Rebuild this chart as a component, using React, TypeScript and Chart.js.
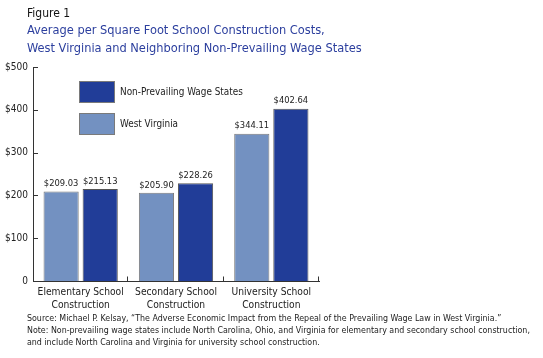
import React, { useEffect, useRef } from "react";
import { Chart, registerables } from "chart.js";

Chart.register(...registerables);

const categories: string[][] = [
  ["Elementary School", "Construction"],
  ["Secondary School", "Construction"],
  ["University School", "Construction"],
];
const westVirginia = [209.03, 205.9, 344.11];
const nonPrevailing = [215.13, 228.26, 402.64];
const seriesNames = ["West Virginia", "Non-Prevailing Wage States"];
const yTicks = [0, 100, 200, 300, 400, 500];

const FONT = "'DejaVu Sans Condensed', 'Liberation Sans', sans-serif";
const AXIS = "#333333";

const overlayPlugin = {
  id: "overlay",
  afterDraw(chart: any) {
    const ctx = chart.ctx as CanvasRenderingContext2D;
    const x = chart.scales.x;
    const y = chart.scales.y;
    const area = chart.chartArea;
    const step = x.getPixelForValue(1) - x.getPixelForValue(0);
    ctx.save();
    ctx.strokeStyle = AXIS;
    ctx.lineWidth = 1;
    ctx.beginPath();
    yTicks.forEach((v) => {
      const py = Math.round(y.getPixelForValue(v)) + 0.5;
      ctx.moveTo(area.left, py);
      ctx.lineTo(area.left + 5, py);
    });
    for (let i = 0; i < categories.length; i++) {
      const px = Math.round(x.getPixelForValue(i) + step / 2) - 0.5;
      const py = Math.round(area.bottom) + 0.5;
      ctx.moveTo(px, py);
      ctx.lineTo(px, py - 5);
    }
    ctx.stroke();

    ctx.fillStyle = "#222";
    ctx.font = `9.3px ${FONT}`;
    ctx.textAlign = "center";
    ctx.textBaseline = "bottom";
    chart.data.datasets.forEach((ds: any, di: number) => {
      const meta = chart.getDatasetMeta(di);
      meta.data.forEach((bar: any, i: number) => {
        ctx.fillText("$" + ds.data[i].toFixed(2), bar.x, bar.y - 3);
      });
    });

    const order = [1, 0];
    order.forEach((di, k) => {
      const ds = chart.data.datasets[di];
      const bx = 79;
      const by = 81 + k * 32;
      ctx.fillStyle = ds.backgroundColor;
      ctx.fillRect(bx, by, 36, 22);
      ctx.strokeStyle = "#7a7a7a";
      ctx.strokeRect(bx + 0.5, by + 0.5, 35, 21);
      ctx.fillStyle = "#222";
      ctx.font = `9.9px ${FONT}`;
      ctx.textAlign = "left";
      ctx.textBaseline = "middle";
      ctx.fillText(ds.label, 120, by + 11);
    });
    ctx.restore();
  },
};

export default function App() {
  const ref = useRef<HTMLCanvasElement>(null);
  useEffect(() => {
    if (!ref.current) return;
    const chart = new Chart(ref.current, {
      type: "bar",
      data: {
        labels: categories,
        datasets: [
          {
            label: seriesNames[0],
            data: westVirginia,
            backgroundColor: "#7391c1",
            borderColor: "#7a7a7a",
            borderWidth: 1,
            categoryPercentage: 0.82,
            barPercentage: 0.9,
          },
          {
            label: seriesNames[1],
            data: nonPrevailing,
            backgroundColor: "#213d98",
            borderColor: "#555555",
            borderWidth: 1,
            categoryPercentage: 0.82,
            barPercentage: 0.9,
          },
        ],
      },
      options: {
        animation: false,
        responsive: false,
        layout: { padding: { left: 0, right: 224, top: 67, bottom: 37 } },
        plugins: {
          legend: { display: false },
          tooltip: { enabled: false },
          title: { display: false },
        },
        scales: {
          x: {
            grid: { display: false, drawTicks: false, tickLength: 0 },
            border: { display: true, color: AXIS, width: 1 },
            ticks: {
              color: "#222",
              font: { family: FONT, size: 10.2, lineHeight: 1.35 },
              padding: 4,
              maxRotation: 0,
              autoSkip: false,
            },
            afterFit: (s: any) => {
              s.height = 40;
            },
          },
          y: {
            min: 0,
            max: 500,
            grid: { display: false, drawTicks: false, tickLength: 0 },
            border: { display: true, color: AXIS, width: 1 },
            ticks: {
              stepSize: 100,
              color: "#222",
              font: { family: FONT, size: 10 },
              padding: 5,
              callback: (v: any) => (Number(v) === 0 ? "0" : "$" + v),
            },
            afterFit: (s: any) => {
              s.width = 33;
            },
          },
        },
      },
      plugins: [overlayPlugin],
    });
    return () => chart.destroy();
  }, []);

  return (
    <div style={{ position: "fixed", left: 0, top: 0, width: 543, height: 358, background: "#fff", fontFamily: FONT }}>
      <canvas ref={ref} width={543} height={358} style={{ position: "absolute", left: 0, top: 0 }} />
      <div style={{ position: "absolute", left: 27, top: 6, fontSize: 12, color: "#111", lineHeight: "15px" }}>Figure 1</div>
      <div style={{ position: "absolute", left: 27, top: 21, fontSize: 12.7, color: "#2c3f9e", lineHeight: "18px", whiteSpace: "nowrap" }}>
        Average per Square Foot School Construction Costs,
        <br />
        West Virginia and Neighboring Non-Prevailing Wage States
      </div>
      <div style={{ position: "absolute", left: 27, top: 312, fontSize: 8.8, color: "#222", lineHeight: "12px", whiteSpace: "nowrap" }}>
        Source: Michael P. Kelsay, “The Adverse Economic Impact from the Repeal of the Prevailing Wage Law in West Virginia.”
        <br />
        Note: Non-prevailing wage states include North Carolina, Ohio, and Virginia for elementary and secondary school construction,
        <br />
        and include North Carolina and Virginia for university school construction.
      </div>
    </div>
  );
}
